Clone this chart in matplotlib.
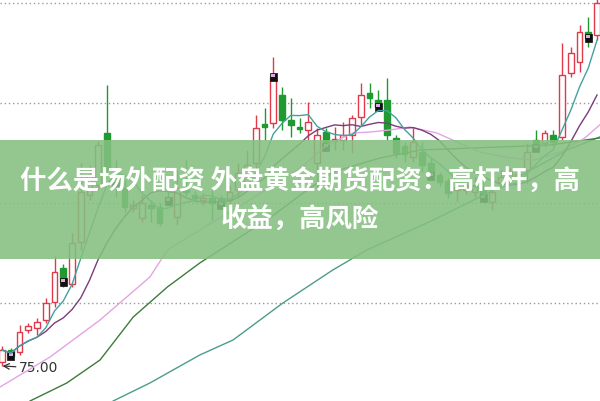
import numpy as np
import pandas as pd
import matplotlib
matplotlib.use('Agg')
import matplotlib.pyplot as plt
from matplotlib.patches import Rectangle

# daily candles (price)
opens = [75.20, 75.80, 75.70, 76.80, 76.90, 77.30, 78.20, 79.90, 79.10, 81.20,
         83.55, 84.05, 86.65, 84.55, 83.90, 82.90, 82.40, 83.05, 82.95, 83.40,
         82.45, 83.90, 83.55, 83.30, 83.40, 83.40, 83.30, 83.80, 84.20, 85.15,
         87.10, 87.15, 88.55, 87.30, 86.95, 86.80, 85.15, 86.70, 86.25, 86.30,
         86.55, 87.45, 88.65, 88.30, 88.30, 86.40, 86.00, 85.45, 85.70, 85.15,
         84.55, 84.25, 83.80, 83.80, 83.70, 83.90, 83.20, 84.15, 84.30, 84.40,
         84.80, 86.30, 86.15, 86.55, 86.45, 89.65, 90.20, 91.70, 91.55]
closes = [75.80, 75.50, 76.70, 77.00, 77.20, 78.15, 79.70, 79.20, 81.15, 83.70,
          84.55, 86.05, 84.90, 84.20, 82.95, 83.05, 83.15, 82.90, 82.15, 83.25,
          83.90, 83.70, 83.40, 83.40, 83.15, 83.05, 83.70, 84.65, 85.05, 86.90,
          86.95, 89.45, 87.30, 87.05, 86.85, 87.20, 86.55, 85.95, 86.35, 86.55,
          87.40, 88.55, 88.40, 87.95, 86.55, 85.65, 85.60, 86.20, 85.05, 84.50,
          84.20, 83.65, 83.95, 84.00, 84.05, 83.40, 83.70, 84.45, 84.70, 84.60,
          85.70, 85.90, 86.65, 86.20, 89.55, 90.65, 91.70, 91.40, 93.15]
highs = [76.00, 75.90, 77.05, 77.15, 77.40, 78.40, 80.50, 80.10, 81.65, 85.15,
         85.05, 86.25, 89.05, 85.30, 84.30, 83.30, 83.55, 83.30, 83.15, 83.70,
         84.80, 85.30, 83.75, 83.65, 83.80, 83.55, 84.05, 85.15, 85.80, 87.55,
         87.90, 90.45, 88.95, 88.40, 87.40, 88.20, 86.90, 86.90, 86.95, 87.20,
         87.55, 89.15, 89.15, 88.80, 89.40, 86.55, 86.20, 86.95, 86.20, 85.40,
         84.70, 84.40, 84.30, 84.20, 84.45, 84.30, 83.90, 84.80, 84.90, 84.80,
         86.15, 86.80, 86.80, 86.80, 91.15, 90.95, 92.05, 92.45, 93.55]
lows = [75.00, 75.35, 75.55, 76.65, 76.55, 77.15, 77.95, 78.95, 78.95, 80.80,
        83.30, 83.80, 84.70, 83.45, 82.70, 82.70, 82.20, 82.20, 82.00, 83.05,
        82.05, 83.50, 83.20, 83.05, 82.30, 82.90, 83.05, 83.45, 83.80, 84.80,
        86.30, 86.90, 86.80, 86.45, 86.65, 86.30, 83.90, 85.80, 85.80, 85.80,
        85.65, 87.05, 87.90, 87.80, 86.30, 85.40, 85.20, 85.20, 84.70, 84.30,
        84.00, 83.40, 83.20, 83.60, 83.45, 83.30, 82.80, 84.00, 84.10, 84.20,
        84.15, 85.80, 85.95, 86.00, 86.30, 89.45, 89.70, 90.95, 91.30]

# candles carrying the small black/pink flag
marker_idx = [1, 7, 13, 19, 25, 31, 37, 43, 49, 55, 61, 67]

# slower averages (candle index, price)
ma20_x = [-0.23, 5.49, 11.2, 16.9, 18.9, 22.6, 28.3, 34.1, 37.1, 40.1, 42.1,
          44.3, 46.6, 49.7, 52.0, 54.6, 58.1, 60.9, 63.8, 66.6, 68.3]
ma20_y = [73.95, 75.45, 77.30, 79.45, 80.80, 81.80, 83.30, 84.90, 86.05, 86.65, 86.70,
          86.80, 86.95, 86.65, 86.20, 85.70, 85.40, 85.30, 85.70, 86.40, 87.05]
ma60_x = [3.2, 7.4, 11.2, 15.0, 18.9, 22.6, 24.9, 30.6, 34.1, 37.8, 43.2, 47.8, 56.9, 62.6, 68.3]
ma60_y = [73.25, 74.15, 75.30, 77.45, 78.95, 80.15, 80.80, 82.40, 83.55, 84.70, 85.40,
          85.80, 85.95, 86.05, 86.40]
ma120_x = [12.7, 16.9, 22.6, 26.4, 32.1, 37.8, 41.7, 49.3, 56.9, 64.6, 68.3]
ma120_y = [73.25, 74.15, 75.55, 76.30, 78.15, 79.80, 80.80, 82.30, 83.95, 85.80, 86.45]

grid_levels = [93.15, 88.15, 83.15, 78.15]
low_label = '75.00'
title_line1 = '什么是场外配资 外盘黄金期货配资：高杠杆，高'
title_line2 = '收益，高风险'

red = '#e03a4a'
green = '#1e9a30'

df = pd.DataFrame({'open': opens, 'close': closes, 'high': highs, 'low': lows})
ma5 = df['close'].rolling(5, min_periods=1).mean()
ma10 = df['close'].rolling(10, min_periods=1).mean()

fig = plt.figure(figsize=(6, 4.01), dpi=100)
ax = fig.add_axes([0, 0, 1, 1])
ax.set_xlim(-0.23, 68.34)
ax.set_ylim(73.25, 93.3)
ax.axis('off')

for lv in grid_levels:
    ax.axhline(lv, color='#9a9a9a', linestyle=(0, (1, 2)), linewidth=1, zorder=1)

w = 0.68
for i, r in df.iterrows():
    up = r['close'] >= r['open']
    col = red if up else green
    ax.vlines(i, r['low'], r['high'], color=col, linewidth=1, zorder=2)
    bot = min(r['open'], r['close'])
    h = max(abs(r['close'] - r['open']), 0.06)
    ax.add_patch(Rectangle((i - w / 2, bot), w, h, facecolor='white' if up else col,
                           edgecolor=col, linewidth=1, zorder=3))

for i in marker_idx:
    c = closes[i]
    ax.add_patch(Rectangle((i - 0.4, c - 0.18), 0.8, 0.36, facecolor='#111111',
                           edgecolor='#111111', linewidth=0.5, zorder=4))
    ax.add_patch(Rectangle((i - 0.25, c + 0.02), 0.5, 0.13, facecolor='#e3a6e8',
                           edgecolor='none', zorder=5))

ax.plot(ma120_x, ma120_y, color='#4c9c8c', linewidth=1, zorder=6)
ax.plot(ma60_x, ma60_y, color='#3c7c3c', linewidth=1, zorder=6)
ax.plot(ma20_x, ma20_y, color='#e4a4e4', linewidth=1, zorder=6)
ax.plot(df.index, ma10, color='#7a3c7a', linewidth=1, zorder=6)
ax.plot(df.index, ma5, color='#45a0a0', linewidth=1, zorder=6)

imin = int(np.argmin(lows))
ax.annotate(low_label, xy=(imin + 0.05, lows[imin]), xytext=(imin + 1.9, lows[imin] - 0.1),
            fontsize=10, color='#333333', va='center', ha='left',
            arrowprops=dict(arrowstyle='->', color='#333333', lw=0.9,
                            shrinkA=0, shrinkB=0))

# translucent banner with headline
ax.add_patch(Rectangle((0, 0.354), 1, 0.297, transform=ax.transAxes,
                       facecolor='#84c080', edgecolor='none', alpha=0.88, zorder=10))
fam = ['Noto Sans CJK SC', 'DejaVu Sans']
fig.text(0.5, 0.546, title_line1, ha='center', va='center', color='white',
         fontsize=19, fontweight='bold', family=fam, zorder=11)
fig.text(0.5, 0.451, title_line2, ha='center', va='center', color='white',
         fontsize=19, fontweight='bold', family=fam, zorder=11)

fig.savefig('out.png', dpi=100)
